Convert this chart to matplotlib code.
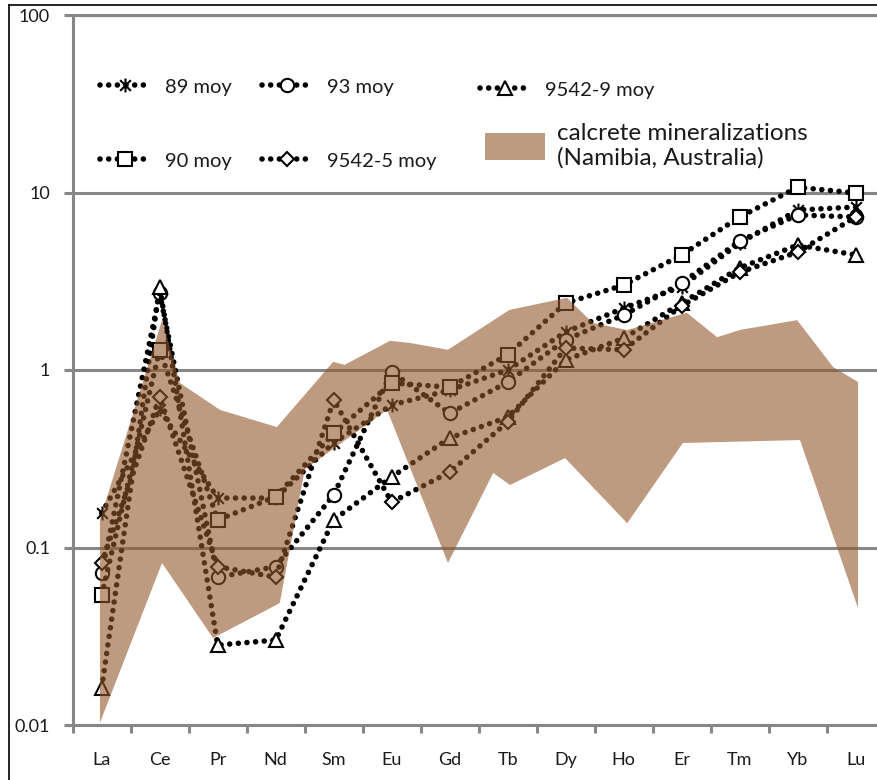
import numpy as np
import matplotlib
matplotlib.use('Agg')
import matplotlib.pyplot as plt
from matplotlib.lines import Line2D
from matplotlib.patches import Patch
from matplotlib.path import Path
from matplotlib.ticker import NullLocator

plt.rcParams['font.family'] = ['Lato', 'DejaVu Sans']

# ---------------- data ----------------
elements = ['La', 'Ce', 'Pr', 'Nd', 'Sm', 'Eu', 'Gd', 'Tb', 'Dy', 'Ho', 'Er', 'Tm', 'Yb', 'Lu']

s89 = [0.156, 0.60, 0.19, 0.19, 0.39, 0.635, 0.77, 1.0, 1.64, 2.23, 2.95, 5.2, 7.97, 8.28]
s93 = [0.072, 2.7, 0.068, 0.078, 0.198, 0.975, 0.57, 0.855, 1.48, 2.04, 3.09, 5.33, 7.47, 7.28]
s9542_9 = [0.0162, 2.94, 0.0282, 0.0301, 0.143, 0.25, 0.414, 0.543, 1.14, 1.51, 2.38, 3.76, 5.06, 4.45]
s90 = [0.054, 1.30, 0.143, 0.193, 0.44, 0.845, 0.80, 1.22, 2.38, 3.01, 4.45, 7.28, 10.7, 9.94]
s9542_5 = [0.082, 0.705, 0.078, 0.068, 0.678, 0.18, 0.266, 0.51, 1.33, 1.30, 2.3, 3.55, 4.62, 7.28]

# calcrete field (Namibia, Australia): outline in element-position units
band_upper_pos = [-0.03, 1.04, 1.35, 2.04, 3.02, 3.99, 4.19, 4.97, 5.32, 5.97, 7.03, 8.02,
                  8.47, 9.06, 10.09, 10.61, 11.0, 11.99, 12.61, 13.04]
band_upper_val = [0.143, 1.91, 0.845, 0.596, 0.477, 1.11, 1.07, 1.46, 1.42, 1.30, 2.18, 2.55,
                  1.84, 1.68, 2.10, 1.53, 1.68, 1.91, 1.04, 0.855]
band_lower_pos = [-0.03, 1.04, 1.92, 3.07, 3.5, 4.92, 5.97, 6.75, 7.04, 7.99, 9.06, 10.02,
                  12.04, 13.04]
band_lower_val = [0.0103, 0.0818, 0.0309, 0.0486, 0.275, 0.596, 0.0818, 0.263, 0.225, 0.319,
                  0.137, 0.388, 0.403, 0.0456]

ytick_vals = [0.01, 0.1, 1, 10, 100]
ytick_labels = ['0.01', '0.1', '1', '10', '100']

# ---------------- styling ----------------
W, H = 877, 780
GRID = '#878787'
BAND_COLOR = '#93582B'
BAND_ALPHA = 0.6

star_path = Path([(-1, -1), (1, 1), (-1, 1), (1, -1), (0, -1.3), (0, 1.3)],
                 [Path.MOVETO, Path.LINETO, Path.MOVETO, Path.LINETO, Path.MOVETO, Path.LINETO])

line_kw = dict(color='black', lw=4.0, linestyle=(0, (0.01, 1.55)), dash_capstyle='round',
               mfc='white', mec='black', mew=1.5)

series = [
    (s89, star_path, 10.0, '89 moy'),
    (s93, 'o', 9.6, '93 moy'),
    (s9542_9, '^', 9.8, '9542-9 moy'),
    (s90, 's', 9.4, '90 moy'),
    (s9542_5, 'D', 6.8, '9542-5 moy'),
]

fig = plt.figure(figsize=(W / 100, H / 100), dpi=100)
ax = fig.add_axes([72.7 / W, 55 / H, 812 / W, 710 / H])

x = np.arange(len(elements))
handles = {}
for vals, m, ms, lab in series:
    ln, = ax.plot(x, vals, marker=m, ms=ms, zorder=2, **line_kw)
    handles[lab] = ln

# band polygon drawn over the series, semi-transparent
poly_x = band_upper_pos + band_lower_pos[::-1]
poly_y = band_upper_val + band_lower_val[::-1]
ax.fill(poly_x, poly_y, color=BAND_COLOR, alpha=BAND_ALPHA, lw=0, zorder=3)

ax.set_yscale('log')
ax.set_ylim(0.01, 100)
ax.set_xlim(-0.5, 13.5)
ax.set_yticks(ytick_vals)
ax.set_yticklabels(ytick_labels)
ax.yaxis.set_minor_locator(NullLocator())
ax.set_xticks(x)
ax.set_xticklabels(elements)
ax.set_xticks(np.arange(-0.5, 13.6, 1), minor=True)

ax.tick_params(axis='x', which='major', length=0, pad=19.5, labelsize=13, labelcolor='#1a1a1a')
ax.tick_params(axis='x', which='minor', length=6, width=2.2, color=GRID, direction='out')
ax.tick_params(axis='y', which='major', length=6.3, width=2.2, color=GRID, pad=10,
               labelsize=13, labelcolor='#1a1a1a')

ax.grid(axis='y', which='major', color=GRID, lw=2.2, zorder=0.5)
ax.set_axisbelow(True)
for side in ['left', 'bottom', 'top']:
    ax.spines[side].set_color(GRID)
    ax.spines[side].set_linewidth(2.2)
ax.spines['right'].set_visible(False)

# ---------------- legend (placed entry by entry) ----------------
LEG_FS = 14.5


def put_entry(handle, label, x0, yc, hl_px=50, pad_px=15, fs=LEG_FS, hh=None):
    f_px = fs * 100 / 72
    kw = dict(loc='center left', bbox_to_anchor=(x0 / W, 1 - yc / H),
              bbox_transform=fig.transFigure, frameon=False, borderpad=0,
              borderaxespad=0, handlelength=hl_px / f_px, handletextpad=pad_px / f_px,
              fontsize=fs, numpoints=1)
    if hh is not None:
        kw['handleheight'] = hh / f_px
    leg = fig.legend([handle], [label], **kw)
    for t in leg.get_texts():
        t.set_color('#1a1a1a')
    return leg


def proxy(lab):
    ln = handles[lab]
    return Line2D([], [], marker=ln.get_marker(), ms=ln.get_markersize(), **line_kw)


put_entry(proxy('89 moy'), '89 moy', 100, 87)
put_entry(proxy('93 moy'), '93 moy', 262, 87)
put_entry(proxy('9542-9 moy'), '9542-9 moy', 480, 90)
put_entry(proxy('90 moy'), '90 moy', 100, 161)
put_entry(proxy('9542-5 moy'), '9542-5 moy', 262, 161)
band_patch = Patch(facecolor=BAND_COLOR, alpha=BAND_ALPHA, edgecolor='none')
put_entry(band_patch, 'calcrete mineralizations\n(Namibia, Australia)', 485, 146,
          hl_px=60, pad_px=12, fs=17.5, hh=32)

# outer frame of the original figure
fig.add_artist(Line2D([8.5 / W, 8.5 / W], [0, 1 - 5 / H], color='black', lw=1.2,
                      transform=fig.transFigure))
fig.add_artist(Line2D([8.5 / W, 1], [1 - 5 / H, 1 - 5 / H], color='black', lw=1.2,
                      transform=fig.transFigure))

fig.savefig('out.png', dpi=100, facecolor='white')
